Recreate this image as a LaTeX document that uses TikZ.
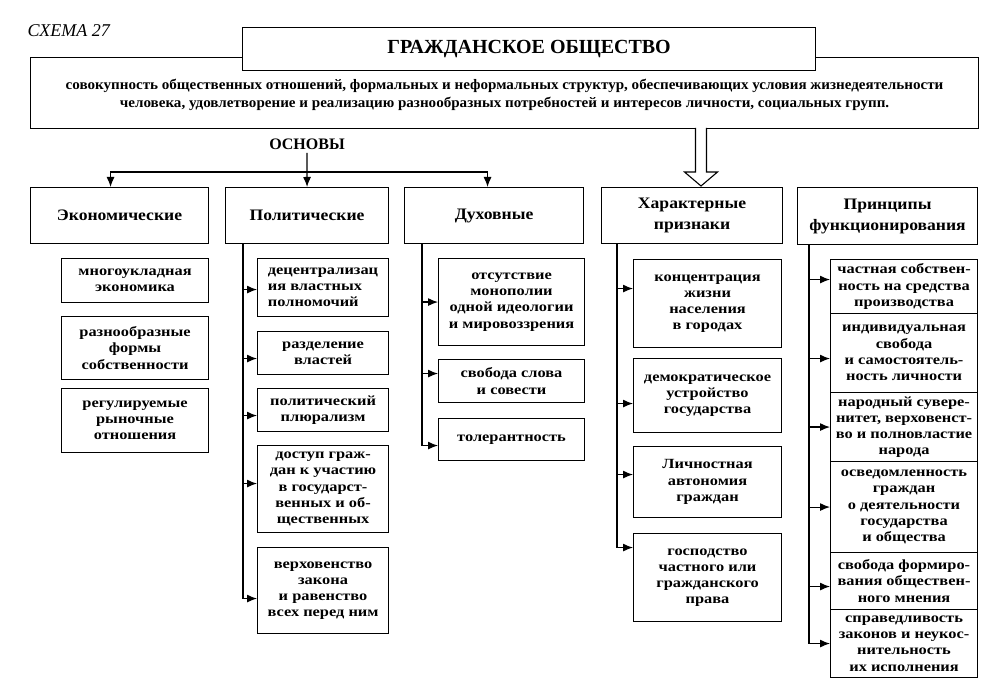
\documentclass[tikz,border=0pt]{standalone}
\usepackage{fontspec}
\setmainfont{Liberation Serif}
\newfontfamily\bodyfont[FakeStretch=1.17]{Liberation Serif}
\newfontfamily\hdrfont[FakeStretch=1.1]{Liberation Serif}
\newfontfamily\deffont[FakeStretch=1.04]{Liberation Serif}
\usetikzlibrary{arrows.meta}
\tikzset{
  box/.style={draw, line width=1.1pt, inner sep=0pt, align=center, fill=white,
    font=\bodyfont\bfseries\fontsize{14}{16.2}\selectfont},
  hdr/.style={font=\hdrfont\bfseries\fontsize{16}{21}\selectfont},
  ln/.style={line width=1.1pt},
  arr/.style={line width=1.1pt, -{Latex[length=10pt,width=8pt]}},
  rarr/.style={line width=1.1pt, {Latex[length=10pt,width=8pt]}-},
}
\newcommand\mybox[7][]{\node[box,#1, minimum width={#5-#3}, minimum height={#6-#4}, anchor=north west] (#2) at (#3,#4) {#7};}
\begin{document}
\begin{tikzpicture}[x=1pt,y=-1pt]
\useasboundingbox (0,0) rectangle (991,692);
\node[font=\itshape\fontsize{18}{20}\selectfont, anchor=west] (schema) at (24,31) {СХЕМА 27};
\mybox[font=\deffont\bfseries\fontsize{14.5}{18}\selectfont]{def}{30}{57}{978}{128}{\rule{0pt}{14pt}совокупность общественных отношений, формальных и неформальных структур, обеспечивающих условия жизнедеятельности\\человека, удовлетворение и реализацию разнообразных потребностей и интересов личности, социальных групп.}
\mybox[font=\bfseries\fontsize{20}{24}\selectfont]{ttl}{242}{27}{815}{70}{ГРАЖДАНСКОЕ ОБЩЕСТВО}
\node[font=\bfseries\fontsize{16}{20}\selectfont] (osn) at (307,144) {ОСНОВЫ};
% headers
\mybox[hdr]{eco}{30}{187}{208}{243}{Экономические}
\mybox[hdr]{pol}{225}{187}{388}{243}{Политические}
\mybox[hdr]{duh}{404}{187}{583}{243}{Духовные}
\mybox[hdr]{har}{601}{187}{782}{243}{Характерные\\признаки}
\mybox[hdr]{pri}{797}{187}{977}{244}{Принципы\\функционирования}
% osnovy arrows
\coordinate (hb) at (307,172);
\draw[arr] (osn.south) -- (pol.north);
\draw[arr] (hb) -| ([xshift=-9pt]eco.north);
\draw[arr] (hb) -| ([xshift=-6.5pt]duh.north);
% hollow arrow
\coordinate (ha) at (701,128);
\draw[ln, fill=white] ([xshift=-5.5pt]ha) -- ++(0,44) -- ++(-11,0) -- ++(16.5,14) -- ++(16.5,-14) -- ++(-11,0) -- ++(0,-44);
% economic
\mybox{e1}{61}{258}{208}{302}{многоукладная\\экономика}
\mybox{e2}{61}{316}{208}{379}{разнообразные\\формы\\собственности}
\mybox{e3}{61}{388}{208}{452}{регулируемые\\рыночные\\отношения}
% political
\mybox[align=left]{p1}{257}{258}{388}{316}{децентрализац\\ия властных\\полномочий}
\mybox{p2}{257}{331}{388}{374}{разделение\\властей}
\mybox{p3}{257}{388}{388}{431}{политический\\плюрализм}
\mybox{p4}{257}{445}{388}{532}{доступ граж-\\дан к участию\\в государст-\\венных и об-\\щественных}
\mybox{p5}{257}{547}{388}{633}{верховенство\\закона\\и равенство\\всех перед ним}
\draw[arr] ([xshift=18pt]pol.south west) |- ([yshift=-8pt]p5.west);
\draw[rarr] ([yshift=-2pt]p1.west) -- ++(-14,0);
\draw[rarr] ([yshift=-5.5pt]p2.west) -- ++(-14,0);
\draw[rarr] ([yshift=-5.5pt]p3.west) -- ++(-14,0);
\draw[rarr] ([yshift=5.5pt]p4.west) -- ++(-14,0);
% spiritual
\mybox{d1}{438}{258}{584}{345}{отсутствие\\монополии\\одной идеологии\\и мировоззрения}
\mybox{d2}{438}{359}{584}{402}{свобода слова\\и совести}
\mybox{d3}{438}{418}{584}{460}{толерантность}
\draw[arr] ([xshift=18pt]duh.south west) |- ([yshift=-6pt]d3.west);
\draw[rarr] (d1.west) -- ++(-16,0);
\draw[rarr] ([yshift=7.5pt]d2.west) -- ++(-16,0);
% characteristic
\mybox{h1}{633}{259}{781}{347}{концентрация\\жизни\\населения\\в городах}
\mybox{h2}{633}{358}{781}{432}{демократическое\\устройство\\государства}
\mybox{h3}{633}{446}{781}{517}{Личностная\\автономия\\граждан}
\mybox{h4}{633}{533}{781}{621}{господство\\частного или\\гражданского\\права}
\draw[arr] ([xshift=16pt]har.south west) |- ([yshift=30pt]h4.west);
\draw[rarr] ([yshift=15pt]h1.west) -- ++(-16,0);
\draw[rarr] ([yshift=-8pt]h2.west) -- ++(-16,0);
\draw[rarr] ([yshift=7.5pt]h3.west) -- ++(-16,0);
% principles
\mybox{r1}{830}{259}{977}{313}{частная собствен-\\ность на средства\\производства}
\mybox{r2}{830}{313}{977}{392}{индивидуальная\\свобода\\и самостоятель-\\ность личности}
\mybox{r3}{830}{392}{977}{461}{народный сувере-\\нитет, верховенст-\\во и полновластие\\народа}
\mybox{r4}{830}{461}{977}{552}{осведомленность\\граждан\\о деятельности\\государства\\и общества}
\mybox{r5}{830}{552}{977}{609}{свобода формиро-\\вания обществен-\\ного мнения}
\mybox{r6}{830}{609}{977}{677}{справедливость\\законов и неукос-\\нительность\\их исполнения}
\draw[arr] ([xshift=12pt]pri.south west) |- (r6.west);
\draw[rarr] ([yshift=7pt]r1.west) -- ++(-21,0);
\draw[rarr] ([yshift=-5.5pt]r2.west) -- ++(-21,0);
\draw[rarr] (r3.west) -- ++(-21,0);
\draw[rarr] (r4.west) -- ++(-21,0);
\draw[rarr] ([yshift=-5.5pt]r5.west) -- ++(-21,0);
\end{tikzpicture}
\end{document}
